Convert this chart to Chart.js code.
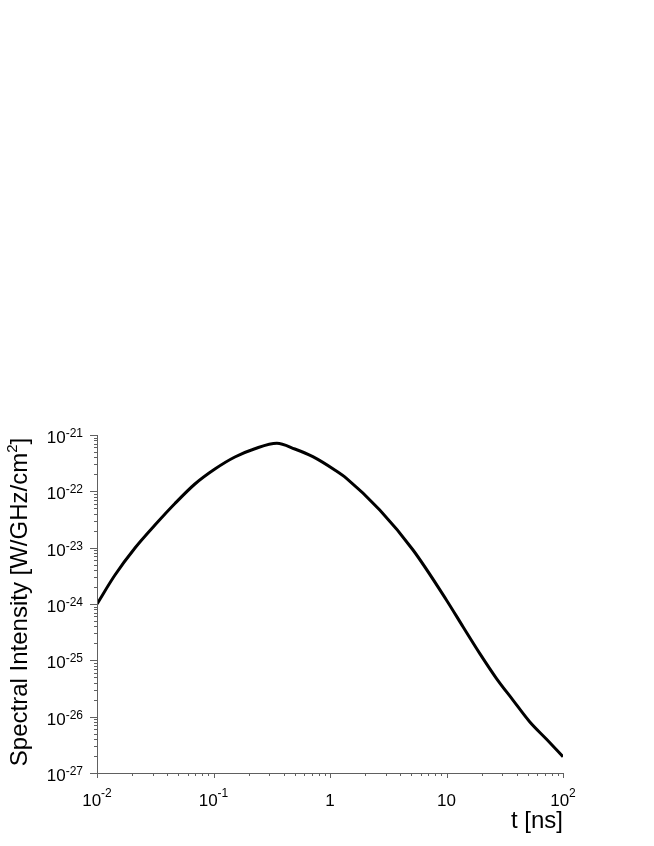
<!DOCTYPE html>
<html>
<head>
<meta charset="utf-8">
<script src="https://cdn.jsdelivr.net/npm/chart.js@4.4.1/dist/chart.umd.min.js"></script>
<style>
  html, body { margin: 0; padding: 0; background: #fff; }
  #wrap { width: 654px; height: 846px; position: relative; }
</style>
</head>
<body>
<div id="wrap"><canvas id="spectrum"></canvas></div>
<script>
// data
const tValues = [0.01, 0.01427, 0.02118, 0.03144, 0.04667, 0.06926, 0.1028, 0.1526, 0.2265, 0.3498,
  0.499, 0.7119, 1.099, 1.385, 2.674, 5.161, 9.98, 13.85, 19.27, 26.79, 37.18, 51.72, 71.93, 100];
const intensity = [1.0e-24, 3.27e-24, 9.86e-24, 2.52e-23, 6.08e-23, 1.35e-22, 2.49e-22, 4.07e-22, 5.71e-22, 7.12e-22,
  5.64e-22, 4.12e-22, 2.39e-22, 1.70e-22, 4.66e-23, 9.09e-24, 1.18e-24, 3.95e-25, 1.33e-25, 4.80e-26,
  1.97e-26, 8.13e-27, 4.01e-27, 1.95e-27];

// tick labels
const xTickValues = [0.01, 0.1, 1, 10, 100];
const xTickBase = ['10', '10', '1', '10', '10'];
const xTickExp = ['-2', '-1', '', '', '2'];
const yTickValues = [1e-27, 1e-26, 1e-25, 1e-24, 1e-23, 1e-22, 1e-21];
const yTickExp = ['-27', '-26', '-25', '-24', '-23', '-22', '-21'];

const xTitle = 't [ns]';
const yTitle = 'Spectral Intensity [W/GHz/cm';

const FONT = '"Liberation Sans", Arial, Helvetica, sans-serif';
const axisColor = '#606060';

function drawPow(ctx, base, exp, x, y, supY, align) {
  ctx.font = '17px ' + FONT;
  const wb = ctx.measureText(base).width;
  ctx.font = '12px ' + FONT;
  const we = exp ? ctx.measureText(exp).width : 0;
  const total = wb + we;
  let start = x - total;
  if (align === 'center') start = x - total / 2;
  ctx.textAlign = 'left';
  ctx.textBaseline = 'alphabetic';
  ctx.font = '17px ' + FONT;
  ctx.fillText(base, start, y);
  if (exp) {
    ctx.font = '12px ' + FONT;
    ctx.fillText(exp, start + wb, supY);
  }
}

function decadeTicks(min, max) {
  const out = [];
  for (let d = Math.round(Math.log10(min)); d < Math.round(Math.log10(max)); d++) {
    for (let m = 1; m <= 9; m++) out.push({ v: m * Math.pow(10, d), major: m === 1 });
  }
  out.push({ v: max, major: true });
  return out;
}

const logAxes = {
  id: 'logAxes',
  afterDraw(chart) {
    const ctx = chart.ctx;
    const xs = chart.scales.x, ys = chart.scales.y;
    const x0 = xs.left, x1 = xs.right, yb = ys.bottom, yt = ys.top;
    ctx.save();
    ctx.strokeStyle = axisColor;
    ctx.lineWidth = 1;
    ctx.beginPath();
    ctx.moveTo(x0 + 0.5, yt);
    ctx.lineTo(x0 + 0.5, yb + 0.5);
    ctx.lineTo(x1, yb + 0.5);
    // x ticks
    decadeTicks(xs.min, xs.max).forEach(t => {
      const px = Math.round(xs.getPixelForValue(t.v)) + 0.5;
      ctx.moveTo(px, yb);
      ctx.lineTo(px, yb + (t.major ? 5 : 3));
    });
    // y ticks
    decadeTicks(ys.min, ys.max).forEach(t => {
      const py = Math.round(ys.getPixelForValue(t.v)) + 0.5;
      ctx.moveTo(x0, py);
      ctx.lineTo(x0 - (t.major ? 7 : 3), py);
    });
    ctx.stroke();

    ctx.fillStyle = '#000';
    xTickValues.forEach((v, i) => {
      const px = xs.getPixelForValue(v);
      drawPow(ctx, xTickBase[i], xTickExp[i], px, yb + 33, yb + 24, 'center');
    });
    yTickValues.forEach((v, i) => {
      const py = ys.getPixelForValue(v);
      drawPow(ctx, '10', yTickExp[i], x0 - 14, py + 8, py + 2, 'right');
    });

    // axis titles
    ctx.font = '24px ' + FONT;
    ctx.textAlign = 'right';
    ctx.textBaseline = 'alphabetic';
    ctx.fillText(xTitle, x1, yb + 55);

    ctx.translate(27, (yt + yb) / 2);
    ctx.rotate(-Math.PI / 2);
    ctx.font = '24px ' + FONT;
    const w1 = ctx.measureText(yTitle).width;
    ctx.font = '15px ' + FONT;
    const w2 = ctx.measureText('2').width;
    ctx.font = '24px ' + FONT;
    const w3 = ctx.measureText(']').width;
    const total = w1 + w2 + w3;
    let sx = -total / 2 + 2;
    ctx.textAlign = 'left';
    ctx.fillText(yTitle, sx, 0);
    ctx.font = '15px ' + FONT;
    ctx.fillText('2', sx + w1, -10);
    ctx.font = '24px ' + FONT;
    ctx.fillText(']', sx + w1 + w2, 0);
    ctx.restore();
  }
};

const ctx = document.getElementById('spectrum').getContext('2d');
const spectrumChart = new Chart(ctx, {
  type: 'scatter',
  data: {
    datasets: [{
      data: tValues.map((t, i) => ({ x: t, y: intensity[i] })),
      showLine: true,
      borderColor: '#000',
      borderWidth: 3,
      pointRadius: 0,
      cubicInterpolationMode: 'monotone',
      fill: false
    }]
  },
  options: {
    responsive: true,
    maintainAspectRatio: false,
    animation: false,
    layout: { padding: { top: 435, right: 91, left: 0, bottom: 0 } },
    scales: {
      x: {
        type: 'logarithmic',
        min: 0.01,
        max: 100,
        grid: { display: false },
        border: { display: false },
        ticks: { display: false },
        afterFit: (scale) => { scale.height = 73; }
      },
      y: {
        type: 'logarithmic',
        min: 1e-27,
        max: 1e-21,
        grid: { display: false },
        border: { display: false },
        ticks: { display: false },
        afterFit: (scale) => { scale.width = 97; }
      }
    },
    plugins: {
      legend: false,
      tooltip: { enabled: false }
    }
  },
  plugins: [logAxes]
});
</script>
</body>
</html>
